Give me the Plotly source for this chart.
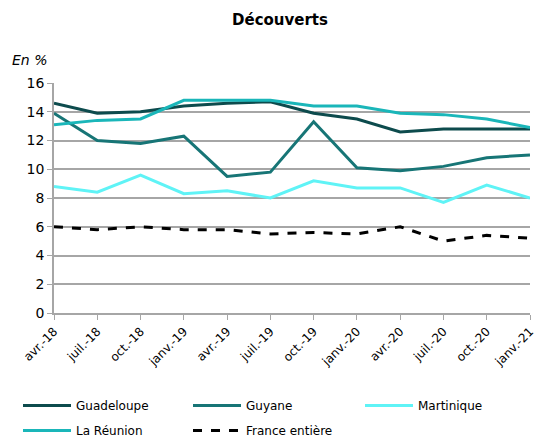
import plotly.graph_objects as go

periods = ["avr.-18", "juil.-18", "oct.-18", "janv.-19", "avr.-19", "juil.-19",
           "oct.-19", "janv.-20", "avr.-20", "juil.-20", "oct.-20", "janv.-21"]
guadeloupe = [14.6, 13.9, 14.0, 14.4, 14.6, 14.7, 13.9, 13.5, 12.6, 12.8, 12.8, 12.8]
guyane = [13.9, 12.0, 11.8, 12.3, 9.5, 9.8, 13.3, 10.1, 9.9, 10.2, 10.8, 11.0]
martinique = [8.8, 8.4, 9.6, 8.3, 8.5, 8.0, 9.2, 8.7, 8.7, 7.7, 8.9, 8.0]
reunion = [13.1, 13.4, 13.5, 14.8, 14.8, 14.8, 14.4, 14.4, 13.9, 13.8, 13.5, 12.9]
france = [6.0, 5.8, 6.0, 5.8, 5.8, 5.5, 5.6, 5.5, 6.0, 5.0, 5.4, 5.2]

# name, values, colour, dash, legend column
series = [
    ("Guadeloupe", guadeloupe, "#0d4b4d", "solid", "legend"),
    ("Guyane", guyane, "#177576", "solid", "legend2"),
    ("Martinique", martinique, "#5ff3f6", "solid", "legend3"),
    ("La Réunion", reunion, "#1ab6b9", "solid", "legend"),
    ("France entière", france, "#000000", "dash", "legend2"),
]

W, H = 534, 427  # page body adds an 8px offset inside the 542x435 window
L, R, T, B = 46, 12, 75, 122
PW, PH = W - L - R, H - T - B

xs = list(range(len(periods)))
fig = go.Figure()
for name, vals, color, dash, leg in series:
    fig.add_trace(go.Scatter(x=xs, y=vals, name=name, mode="lines",
                             line=dict(color=color, width=3, dash=dash),
                             legend=leg, legendgroup=name, cliponaxis=False))

font = "DejaVu Sans, Verdana, sans-serif"


def leg(xpx):
    return dict(orientation="v", xref="container", yref="container",
                x=xpx / W, y=1 - 383 / H, xanchor="left", yanchor="top",
                font=dict(size=12, family=font), tracegroupgap=6,
                traceorder="grouped", itemwidth=48, bgcolor="rgba(0,0,0,0)")


fig.update_layout(
    width=W, height=H,
    margin=dict(l=L, r=R, t=T, b=B, autoexpand=False),
    paper_bgcolor="white", plot_bgcolor="white",
    font=dict(family=font, size=12, color="#000000"),
    title=dict(text="<b>Découverts</b>", x=272 / W, xanchor="center",
               y=1 - 12 / H, yanchor="middle", font=dict(size=15, family=font)),
    showlegend=True,
    legend=leg(10), legend2=leg(180), legend3=leg(352),
    xaxis=dict(range=[0, 11], tickmode="array", tickvals=xs, ticktext=periods,
               tickangle=-45, showgrid=False, showline=True, linecolor="#a6a6a6",
               linewidth=1.5, ticks="outside", ticklen=5, tickcolor="#a6a6a6",
               tickfont=dict(size=12, family=font), zeroline=False, automargin=False),
    yaxis=dict(range=[0, 16], dtick=2, showgrid=True, gridcolor="#a6a6a6", gridwidth=1.5,
               showline=True, linecolor="#a6a6a6", linewidth=1.5, ticks="outside",
               ticklen=5, tickcolor="#a6a6a6", zeroline=False, automargin=False,
               tickfont=dict(size=14, family=font)),
    annotations=[dict(text="<i>En %</i>", xref="paper", yref="paper",
                      x=(2 - L) / PW, y=1 + (T - 52) / PH, xanchor="left", yanchor="middle",
                      showarrow=False, font=dict(size=14, family=font))],
)

fig.write_html("out.html")
